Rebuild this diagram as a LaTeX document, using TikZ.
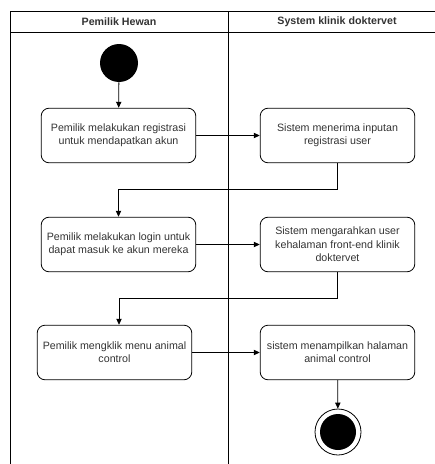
\documentclass[tikz,border=0pt]{standalone}
\usepackage{fontspec}
\setmainfont{Liberation Sans}
\usetikzlibrary{arrows.meta}
\definecolor{txtgray}{RGB}{51,51,51}

\begin{document}
\begin{tikzpicture}[x=0.75pt,y=-0.75pt,line width=0.6pt,
  act/.style={draw, rounded corners=6pt, minimum width=116pt, minimum height=41pt,
    align=center, font=\fontsize{8}{10}\selectfont, text=txtgray},
  flow/.style={-{Triangle[length=4.5pt,width=4pt]}},
  lanetitle/.style={font=\bfseries\fontsize{8}{10}\selectfont, text=txtgray}]
  \useasboundingbox (0,0) rectangle (435,464);
  % swimlanes
  \draw (10,470) -- (10,11) -- (445,11);
  \draw (10,32) -- (445,32);
  \draw (228,11) -- (228,470);
  \node[lanetitle] (laneA) at (119,22) {Pemilik Hewan};
  \node[lanetitle] (laneB) at (337,22) {System klinik doktervet};
  % start and end
  \node[circle, fill, inner sep=0, minimum size=28.5pt] (start) at (119,63) {};
  \node[circle, draw, inner sep=0, minimum size=34.5pt] (finish) at (338,432) {};
  \fill (finish.center) circle (13.5pt);
  % actions
  \node[act] (reg) at (118.5,135.5) {Pemilik melakukan registrasi\\untuk mendapatkan akun};
  \node[act] (recv) at (337.5,135.5) {Sistem menerima inputan\\registrasi user};
  \node[act] (login) at (118.5,244.5) {Pemilik melakukan login untuk\\dapat masuk ke akun mereka};
  \node[act] (redir) at (337.5,244.5) {Sistem mengarahkan user\\kehalaman front-end klinik\\doktervet};
  \node[act] (klik) at (114.5,352.5) {Pemilik mengklik menu animal\\control};
  \node[act] (show) at (337.5,352.5) {sistem menampilkan halaman\\animal control};
  % flows
  \draw[flow] (start) -- (reg);
  \draw[flow] (reg) -- (recv);
  \draw[flow] (recv.south) -- ++(0,26) -| (login.north);
  \draw[flow] (login) -- (redir);
  \draw[flow] (redir.south) -- ++(0,26) -| (start |- klik.north);
  \draw[flow] (klik.east |- show) -- (show);
  \draw[flow] (show) -- (finish);
\end{tikzpicture}
\end{document}
